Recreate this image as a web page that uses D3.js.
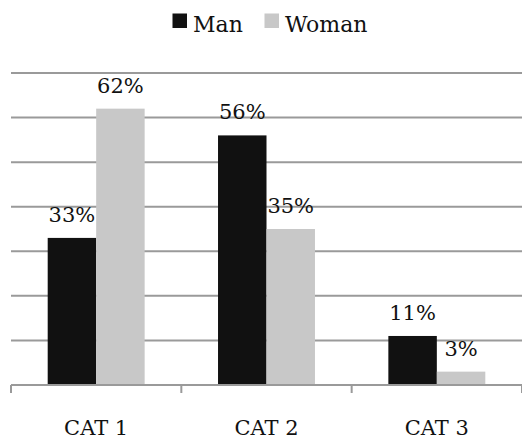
<!DOCTYPE html>
<html>
<head>
<meta charset="utf-8">
<script src="https://cdn.jsdelivr.net/npm/d3@7/dist/d3.min.js"></script>
<style>
  html, body { margin: 0; padding: 0; background: #fff; }
  svg { display: block; }
</style>
</head>
<body>
<svg id="chart" width="522" height="439"></svg>
<script>
// Chart data
const categories = ["CAT 1", "CAT 2", "CAT 3"];
const seriesNames = ["Man", "Woman"];
const manValues = [33, 56, 11];
const womanValues = [62, 35, 3];
const gridTicks = [0, 10, 20, 30, 40, 50, 60, 70];

const colors = { Man: "#111111", Woman: "#c8c8c8" };
const FONT = "'DejaVu Serif', serif";
const FS = 21;
const LEGEND_FS = 22;

const svg = d3.select("#chart")
  .attr("font-family", FONT)
  .style("font-family", FONT);
const width = 522, height = 439;
const margin = { top: 73, right: 0, bottom: 54, left: 11 };
const plotW = width - margin.left - margin.right;
const plotH = height - margin.top - margin.bottom;

const g = svg.append("g").attr("transform", `translate(${margin.left},${margin.top})`);

const x = d3.scaleBand().domain(categories).range([0, plotW]).paddingInner(0).paddingOuter(0);
const xInner = d3.scaleBand().domain(seriesNames)
  .range([0, x.bandwidth()]).paddingInner(0).paddingOuter(0.757);
const y = d3.scaleLinear().domain([0, 70]).range([plotH, 0]);

// Horizontal gridlines
g.append("g").selectAll("line")
  .data(gridTicks.filter(t => t > 0))
  .join("line")
  .attr("x1", 0).attr("x2", plotW)
  .attr("y1", d => y(d)).attr("y2", d => y(d))
  .attr("stroke", "#9a9a9a").attr("stroke-width", 2);

// Bars
const rows = categories.map((c, i) => ({
  cat: c,
  values: [
    { key: "Man", value: manValues[i] },
    { key: "Woman", value: womanValues[i] }
  ]
}));

const groups = g.append("g").selectAll("g")
  .data(rows).join("g")
  .attr("transform", d => `translate(${x(d.cat)},0)`);

groups.selectAll("rect")
  .data(d => d.values).join("rect")
  .attr("x", d => xInner(d.key))
  .attr("width", xInner.bandwidth())
  .attr("y", d => y(d.value))
  .attr("height", d => plotH - y(d.value))
  .attr("fill", d => colors[d.key]);

// Value labels
groups.selectAll("text")
  .data(d => d.values).join("text")
  .attr("x", d => xInner(d.key) + xInner.bandwidth() / 2)
  .attr("y", d => y(d.value) - 16)
  .attr("text-anchor", "middle")
  .attr("font-size", FS)
  .attr("fill", "#111")
  .text(d => d.value + "%");

// Category axis
const axis = g.append("g").attr("transform", `translate(0,${plotH})`);
axis.append("line")
  .attr("x1", 0).attr("x2", plotW).attr("y1", 0).attr("y2", 0)
  .attr("stroke", "#9a9a9a").attr("stroke-width", 2);
const boundaries = categories.map(c => x(c)).concat([plotW]);
axis.selectAll("line.tick")
  .data(boundaries).join("line").attr("class", "tick")
  .attr("x1", d => d).attr("x2", d => d)
  .attr("y1", 0).attr("y2", 8)
  .attr("stroke", "#9a9a9a").attr("stroke-width", 2);
axis.selectAll("text")
  .data(categories).join("text")
  .attr("x", d => x(d) + x.bandwidth() / 2)
  .attr("y", 50)
  .attr("text-anchor", "middle")
  .attr("font-size", FS)
  .attr("fill", "#111")
  .text(d => d);

// Legend
const legendItems = [
  { key: "Man", sx: 172.5, tx: 193 },
  { key: "Woman", sx: 264.5, tx: 285 }
];
const legend = svg.append("g");
legend.selectAll("rect")
  .data(legendItems).join("rect")
  .attr("x", d => d.sx).attr("y", 13.5)
  .attr("width", 14.5).attr("height", 14.5)
  .attr("fill", d => colors[d.key]);
legend.selectAll("text")
  .data(legendItems).join("text")
  .attr("x", d => d.tx).attr("y", 32)
  .attr("font-size", LEGEND_FS)
  .attr("fill", "#111")
  .text(d => d.key);
</script>
</body>
</html>
